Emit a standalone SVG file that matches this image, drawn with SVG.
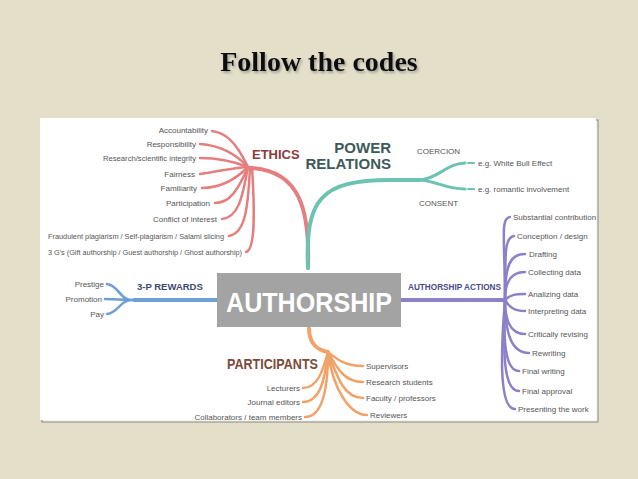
<svg xmlns="http://www.w3.org/2000/svg" width="638" height="479" viewBox="0 0 638 479">
<defs><filter id="sh" x="-10%" y="-30%" width="120%" height="160%"><feDropShadow dx="1.5" dy="2" stdDeviation="1.2" flood-color="#777" flood-opacity="0.6"/></filter></defs>
<style>
.t{font-family:"Liberation Sans",Arial,sans-serif;font-size:8px;fill:#555}
.h{font-family:"Liberation Sans",Arial,sans-serif;font-weight:bold}
.r{fill:none;stroke:#e57f7f;stroke-linecap:round}
.g{fill:none;stroke:#6cc3b1;stroke-linecap:round}
.p{fill:none;stroke:#8c80c8;stroke-linecap:round}
.b{fill:none;stroke:#6d9fd6;stroke-linecap:round}
.o{fill:none;stroke:#f0a268;stroke-linecap:round}
</style>
<rect width="638" height="479" fill="#e3dfc8"/>
<text x="319" y="71" text-anchor="middle" font-family="Liberation Serif,serif" font-weight="bold" font-size="28" fill="#111" filter="url(#sh)">Follow the codes</text>
<rect x="42" y="120" width="556" height="302" fill="#f4f3ee" stroke="#888" stroke-width="1"/>
<rect x="40" y="118" width="556" height="302" fill="#fff"/>
<g id="connectors">
<path class="r" stroke-width="4" d="M250 168 C300 170 310 210 308 268"/>
<g class="r" stroke-width="2.5">
<path d="M248 167 C235 140 225 133 212 131"/><path d="M248 167 C232 150 215 145 200 144"/><path d="M248 167 C230 160 215 158 200 158"/>
<path d="M248 167 C230 168 215 172 200 174"/><path d="M248 167 C235 180 220 188 202 188"/><path d="M248 167 C238 190 230 203 215 203"/>
<path d="M248 167 C242 200 238 217 222 219"/><path d="M250 167 C248 210 245 233 229 236"/><path d="M252 167 C255 215 255 250 246 252"/>
</g>
<path class="g" stroke-width="4" d="M308 268 C305 200 320 180 390 180 L420 180"/>
<path class="g" stroke-width="3" d="M420 180 C440 178 445 164 465 163 M420 180 C440 182 445 189 465 189"/>
<path class="g" stroke-width="2" d="M468 163 L474 163 M468 189 L474 189"/>
<path class="p" stroke-width="4" d="M401 300 L503 300"/>
<g class="p" stroke-width="2.5">
<path d="M505 300 C505 240 500 218 510 217"/><path d="M505 300 C505 250 505 237 514 236"/><path d="M505 300 C505 265 510 254 525 254"/>
<path d="M505 300 C505 280 512 272 525 272"/><path d="M505 300 C510 295 515 294 525 294"/><path d="M505 300 C510 308 515 311 525 311"/>
<path d="M505 300 C505 320 510 334 525 334"/><path d="M505 300 C505 330 510 353 529 353"/><path d="M505 300 C503 340 505 371 519 371"/>
<path d="M505 300 C503 350 503 391 519 391"/><path d="M505 300 C500 360 500 409 515 409"/>
</g>
<path class="b" stroke-width="4" d="M217 300 L134 300"/>
<path class="b" stroke-width="2.5" d="M132 300 C120 300 118 285 107 284 M132 300 L105 299 M132 300 C120 300 118 313 107 314"/>
<path class="o" stroke-width="4" d="M309 328 C309 345 318 350 328 352"/>
<g class="o" stroke-width="2.5">
<path d="M328 352 C338 360 345 366 363 366"/><path d="M328 352 C338 370 345 382 363 382"/><path d="M328 352 C338 380 345 398 363 398"/>
<path d="M328 352 C333 390 350 415 367 415"/><path d="M328 352 C323 370 318 388 303 388"/><path d="M328 352 C325 380 320 402 303 402"/>
<path d="M328 352 C328 390 322 417 305 417"/>
</g>
</g>
<g id="authorship"><rect x="217" y="273" width="184" height="54" fill="#a3a3a3"/>
<text x="309" y="312" text-anchor="middle" class="h" font-size="28" fill="#fff" textLength="166" lengthAdjust="spacingAndGlyphs">AUTHORSHIP</text></g>
<g id="ethics" class="t" text-anchor="end">
<text class="h" x="252" y="159" font-size="13" fill="#8b3b3b" text-anchor="start">ETHICS</text>
<text x="208" y="133">Accountability</text><text x="196" y="147">Responsibility</text><text x="196" y="161" textLength="93" lengthAdjust="spacingAndGlyphs">Research/scientific integrity</text>
<text x="195" y="177">Fairness</text><text x="197" y="191">Familiarity</text><text x="210" y="206">Participation</text>
<text x="217" y="222">Conflict of interest</text><text x="224" y="239" textLength="176" lengthAdjust="spacingAndGlyphs">Fraudulent plagiarism / Self-plagiarism / Salami slicing</text>
<text x="242" y="255" textLength="194" lengthAdjust="spacingAndGlyphs">3 G's (Gift authorship / Guest authorship / Ghost authorship)</text>
</g>
<g id="power" class="t">
<text class="h" x="391" y="153" font-size="15" fill="#3d5a5a" text-anchor="end">POWER</text>
<text class="h" x="391" y="169" font-size="15" fill="#3d5a5a" text-anchor="end">RELATIONS</text>
<text x="417" y="154">COERCION</text><text x="419" y="206">CONSENT</text>
<text x="478" y="166">e.g. White Bull Effect</text><text x="478" y="192">e.g. romantic involvement</text>
</g>
<g id="actions" class="t">
<text class="h" x="408" y="290" font-size="9.5" fill="#4a4a8a" textLength="93" lengthAdjust="spacingAndGlyphs">AUTHORSHIP ACTIONS</text>
<text x="513" y="220">Substantial contribution</text><text x="517" y="239">Conception / design</text><text x="529" y="257">Drafting</text>
<text x="528" y="275">Collecting data</text><text x="528" y="297">Analizing data</text><text x="528" y="314">Interpreting data</text>
<text x="528" y="337">Critically revising</text><text x="532" y="356">Rewriting</text><text x="522" y="374">Final writing</text>
<text x="522" y="394">Final approval</text><text x="518" y="412">Presenting the work</text>
</g>
<g id="rewards" class="t">
<text class="h" x="137" y="290" font-size="9.5" fill="#3a4a70">3-P REWARDS</text>
<g text-anchor="end"><text x="104" y="287">Prestige</text><text x="102" y="302">Promotion</text><text x="104" y="317">Pay</text></g>
</g>
<g id="participants" class="t">
<text class="h" x="227" y="369" font-size="14" fill="#7a4a3a" textLength="91" lengthAdjust="spacingAndGlyphs">PARTICIPANTS</text>
<g text-anchor="end"><text x="300" y="391">Lecturers</text><text x="300" y="405">Journal editors</text><text x="302" y="420">Collaborators / team members</text></g>
<text x="366" y="369">Supervisors</text><text x="366" y="385">Research students</text><text x="366" y="401">Faculty / professors</text><text x="370" y="418">Reviewers</text>
</g>
</svg>
